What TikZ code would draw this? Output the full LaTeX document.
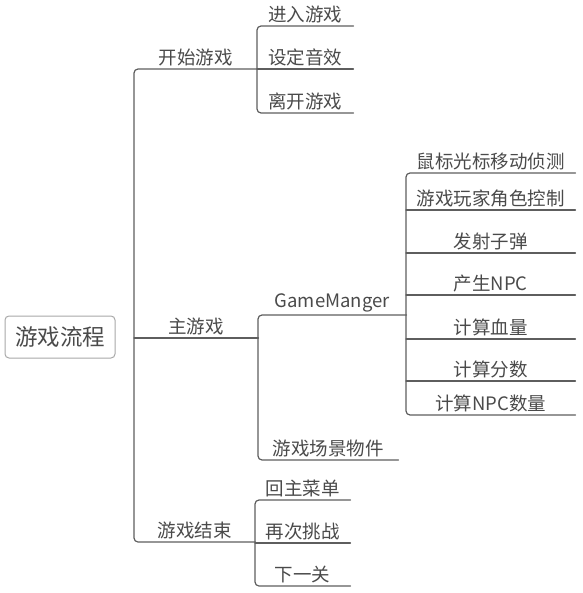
\documentclass[tikz,border=0pt]{standalone}
\usepackage{fontspec}
\setmainfont{Noto Sans CJK SC}
\definecolor{ln}{HTML}{5E5E5E}
\definecolor{txt}{HTML}{4A4A4A}
\definecolor{boxln}{HTML}{A8A8A8}
\tikzset{
	topic/.style={anchor=south west, minimum width=#1, inner xsep=0pt, inner ysep=3pt, text=txt},
	conn/.style={draw=ln, line width=1.2pt, rounded corners=4pt},
	rootbox/.style={draw=boxln, line width=1pt, rounded corners=4pt, minimum width=110pt, minimum height=42pt, text=txt, font=\fontsize{22.5}{26}\selectfont}
}
\begin{document}
\begin{tikzpicture}[x=1pt, y=-1pt, line join=round, line cap=round, font=\fontsize{18.5}{21}\selectfont]
		\useasboundingbox (0,0) rectangle (582,593);
		% root
		\node[rootbox] (root) at (60,337) {游戏流程};
		% first level
		\node[topic=123] (ks) at (134,69) {开始游戏};
		\node[topic=124] (zy) at (134,338) {主游戏};
		\node[topic=121] (js) at (134,542) {游戏结束};
		\draw[conn] (ks.south east) -- (ks.south west) -- (js.south west) -- (js.south east);
		\draw[conn] (zy.south west) -- (zy.south east);
		% start game
		\node[topic=96] (jr) at (257,26) {进入游戏};
		\node[topic=96] (sd) at (257,69) {设定音效};
		\node[topic=96] (lk) at (257,113) {离开游戏};
		\draw[conn] (jr.south east) -- (jr.south west) -- (lk.south west) -- (lk.south east);
		\draw[conn] (sd.south west) -- (sd.south east);
		% main game
		\node[topic=148] (gm) at (258,315) {GameManger};
		\node[topic=140] (cj) at (258,460) {游戏场景物件};
		\draw[conn] (gm.south east) -- (gm.south west) -- (cj.south west) -- (cj.south east);
		\foreach \y/\t [count=\i] in {173/鼠标光标移动侦测, 210/游戏玩家角色控制, 253/发射子弹, 295/产生NPC, 339/计算血量, 381/计算分数, 415/计算NPC数量}
			\node[topic=169] (gm\i) at (406,\y) {\t};
		\draw[conn] (gm1.south east) -- (gm1.south west) -- (gm7.south west) -- (gm7.south east);
		\foreach \i in {2,...,6} \draw[conn] (gm\i.south west) -- (gm\i.south east);
		% game over
		\node[topic=95] (hz) at (255,500) {回主菜单};
		\node[topic=95] (zc) at (255,543) {再次挑战};
		\node[topic=95] (xy) at (255,586) {下一关};
		\draw[conn] (hz.south east) -- (hz.south west) -- (xy.south west) -- (xy.south east);
		\draw[conn] (zc.south west) -- (zc.south east);
\end{tikzpicture}
\end{document}
